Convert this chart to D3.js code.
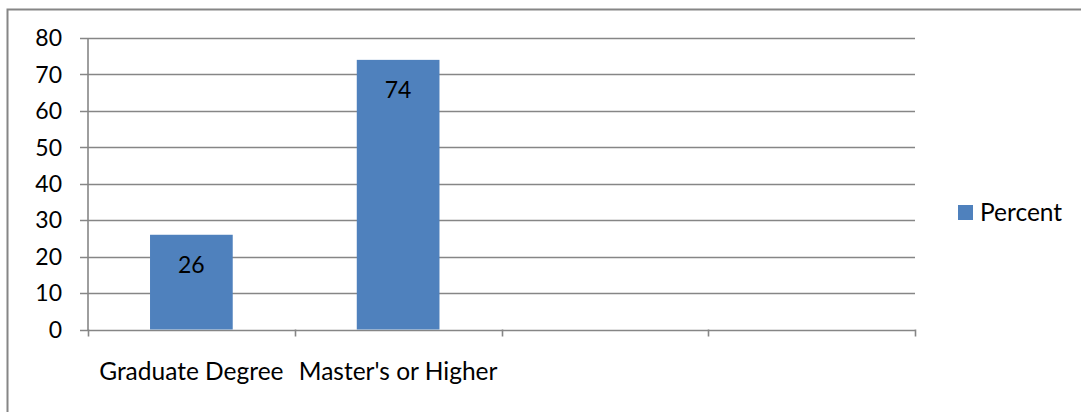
<!DOCTYPE html>
<html>
<head>
<meta charset="utf-8">
<script src="https://d3js.org/d3.v7.min.js"></script>
<style>
  body { margin: 0; background: #fff; }
  svg text { font-family: Lato, "Open Sans", sans-serif; fill: #000; }
</style>
</head>
<body>
<script>
// chart data
var categories = ["Graduate Degree", "Master's or Higher", "", ""];
var percent = [26, 74, null, null];
var yTicks = [0, 10, 20, 30, 40, 50, 60, 70, 80];
var seriesName = "Percent";

var width = 1081, height = 412;
var barColor = "#4F81BD", lineColor = "#868686";

var svg = d3.select("body").append("svg")
  .attr("width", width).attr("height", height);

// outer chart frame (runs off the right/bottom of the picture)
svg.append("rect")
  .attr("x", 7.5).attr("y", 9.5)
  .attr("width", width + 10).attr("height", height + 10)
  .attr("fill", "none").attr("stroke", lineColor).attr("stroke-width", 2);

var x = d3.scaleBand().domain(d3.range(categories.length)).range([88, 915]).paddingInner(0).paddingOuter(0);
var y = d3.scaleLinear().domain([0, 80]).range([329.5, 38]);

// gridlines
svg.append("g").selectAll("line").data(yTicks).join("line")
  .attr("x1", 80).attr("x2", 915)
  .attr("y1", function(d) { return Math.round(y(d)) + 0.5; })
  .attr("y2", function(d) { return Math.round(y(d)) + 0.5; })
  .attr("stroke", lineColor).attr("stroke-width", 1.6);

// y axis line
svg.append("line")
  .attr("x1", 88).attr("x2", 88).attr("y1", y(80)).attr("y2", y(0) + 1)
  .attr("stroke", lineColor).attr("stroke-width", 1.6);

// y labels
svg.append("g").selectAll("text").data(yTicks).join("text")
  .attr("x", 62).attr("y", function(d) { return y(d); })
  .attr("dy", "0.36em")
  .attr("text-anchor", "end")
  .style("font-size", "23px")
  .text(function(d) { return d; });

// category ticks
var bounds = d3.range(categories.length + 1).map(function(i) {
  return i < categories.length ? x(i) : x.range()[1];
});
svg.append("g").selectAll("line").data(bounds).join("line")
  .attr("x1", function(d) { return Math.round(d) + 0.5; })
  .attr("x2", function(d) { return Math.round(d) + 0.5; })
  .attr("y1", y(0)).attr("y2", y(0) + 7)
  .attr("stroke", lineColor).attr("stroke-width", 1.6);

// category labels
svg.append("g").selectAll("text").data(categories).join("text")
  .attr("x", function(d, i) { return x(i) + x.bandwidth() / 2; })
  .attr("y", 380)
  .attr("text-anchor", "middle")
  .style("font-size", "24.5px")
  .text(function(d) { return d; });

// bars
var bw = x.bandwidth() * 0.4;
var bars = percent.map(function(v, i) { return {v: v, i: i}; }).filter(function(d) { return d.v != null; });
svg.append("g").selectAll("rect").data(bars).join("rect")
  .attr("x", function(d) { return x(d.i) + (x.bandwidth() - bw) / 2; })
  .attr("width", bw)
  .attr("y", function(d) { return y(d.v); })
  .attr("height", function(d) { return y(0) - y(d.v); })
  .attr("fill", barColor);

// value labels
svg.append("g").selectAll("text").data(bars).join("text")
  .attr("x", function(d) { return x(d.i) + x.bandwidth() / 2; })
  .attr("y", function(d) { return y(d.v) + 30; })
  .attr("dy", "0.36em")
  .attr("text-anchor", "middle")
  .style("font-size", "23px")
  .text(function(d) { return d.v; });

// legend
svg.append("rect").attr("x", 958).attr("y", 205).attr("width", 15).attr("height", 15).attr("fill", barColor);
svg.append("text").attr("x", 980).attr("y", 212.5).attr("dy", "0.36em")
  .style("font-size", "24.5px").text(seriesName);
</script>
</body>
</html>
